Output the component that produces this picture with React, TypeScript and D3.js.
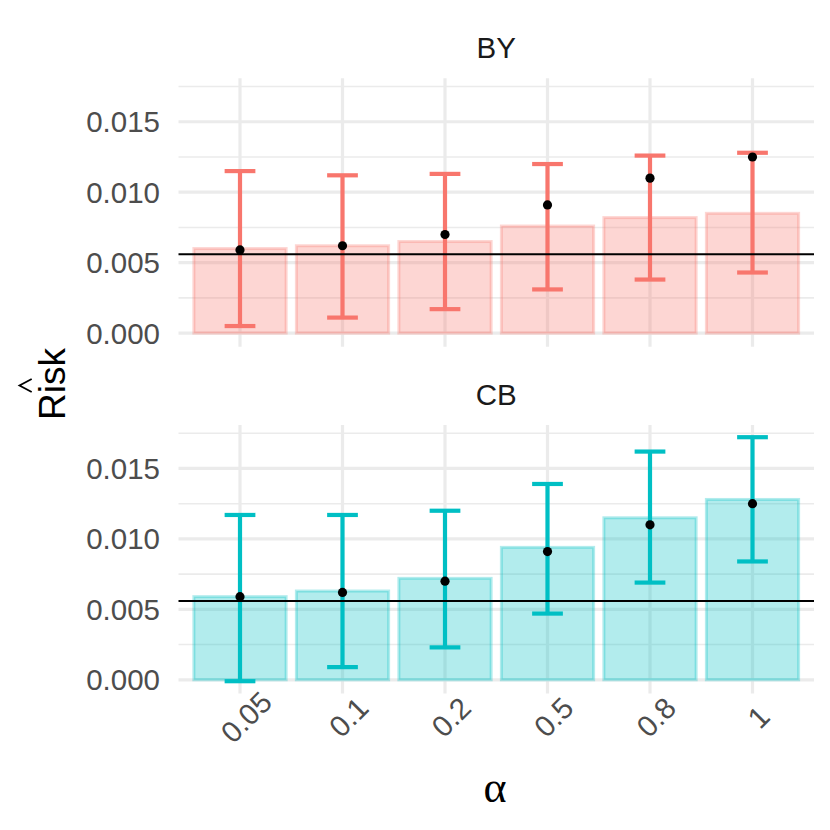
import React from "react";
import * as d3 from "d3";

const alphas = ["0.05", "0.1", "0.2", "0.5", "0.8", "1"];
const points = [0.0059, 0.0062, 0.0070, 0.0091, 0.0110, 0.0125];
const byBars = [0.0060, 0.0062, 0.0065, 0.0076, 0.0082, 0.0085];
const byLower = [0.0005, 0.0011, 0.0017, 0.0031, 0.0038, 0.0043];
const byUpper = [0.0115, 0.0112, 0.0113, 0.0120, 0.0126, 0.0128];
const cbBars = [0.0059, 0.0063, 0.0072, 0.0094, 0.0115, 0.0128];
const cbLower = [-0.0001, 0.0009, 0.0023, 0.0047, 0.0069, 0.0084];
const cbUpper = [0.0117, 0.0117, 0.0120, 0.0139, 0.0162, 0.01722];
const refLine = 0.0056;
const yTicks = [0, 0.005, 0.01, 0.015];
const yMinor = [0.0025, 0.0075, 0.0125, 0.0175];
const yTickLabels = ["0.000", "0.005", "0.010", "0.015"];

const panels = [
  { name: "BY", color: "#F8766D", bars: byBars, lower: byLower, upper: byUpper },
  { name: "CB", color: "#00BFC4", bars: cbBars, lower: cbLower, upper: cbUpper },
];

const FONT = "'Liberation Sans', Arial, Helvetica, sans-serif";

export default function App() {
  const left = 178.5;
  const right = 814;
  const panelTops = [78.3, 425];
  const panelH = 268.4;

  const all = [...byLower, ...byUpper, ...cbLower, ...cbUpper, ...byBars, ...cbBars, ...points, 0];
  const dmin = d3.min(all) as number;
  const dmax = d3.max(all) as number;
  const exp = (dmax - dmin) * 0.05;

  const x = d3.scalePoint<string>().domain(alphas).range([left, right]).padding(0.6);
  const step = x.step();
  const barW = step * 0.9;
  const capW = step * 0.3;

  return (
    <svg width={830} height={830} style={{ position: "absolute", left: 0, top: 0, background: "#fff" }}>
      {panels.map((p, pi) => {
        const top = panelTops[pi];
        const y = d3.scaleLinear().domain([dmin - exp, dmax + exp]).range([top + panelH, top]);
        return (
          <g key={p.name}>
            {/* grid */}
            {yMinor.map((v) => (
              <line key={"mn" + v} x1={left} x2={right} y1={y(v)} y2={y(v)} stroke="#EBEBEB" strokeWidth={1.6} />
            ))}
            {yTicks.map((v) => (
              <line key={"mj" + v} x1={left} x2={right} y1={y(v)} y2={y(v)} stroke="#EBEBEB" strokeWidth={3.2} />
            ))}
            {alphas.map((a) => (
              <line key={"vx" + a} x1={x(a)} x2={x(a)} y1={top} y2={top + panelH} stroke="#EBEBEB" strokeWidth={3.2} />
            ))}
            {/* y tick labels */}
            {yTicks.map((v, i) => (
              <text key={"yl" + v} x={160} y={y(v) + 10.5} textAnchor="end" fontFamily={FONT} fontSize={29.5} fill="#4D4D4D">
                {yTickLabels[i]}
              </text>
            ))}
            {/* strip */}
            <text x={(left + right) / 2} y={top - 20} textAnchor="middle" fontFamily={FONT} fontSize={29.5} fill="#1A1A1A">
              {p.name}
            </text>
            {/* bars */}
            {alphas.map((a, i) => (
              <rect
                key={"b" + a}
                x={(x(a) as number) - barW / 2}
                y={y(p.bars[i])}
                width={barW}
                height={y(0) - y(p.bars[i])}
                fill={p.color}
                fillOpacity={0.3}
                stroke={p.color}
                strokeOpacity={0.3}
                strokeWidth={3}
              />
            ))}
            {/* error bars */}
            {alphas.map((a, i) => {
              const cx = x(a) as number;
              return (
                <g key={"e" + a} stroke={p.color} strokeWidth={4.2}>
                  <line x1={cx} x2={cx} y1={y(p.lower[i])} y2={y(p.upper[i])} />
                  <line x1={cx - capW / 2} x2={cx + capW / 2} y1={y(p.lower[i])} y2={y(p.lower[i])} />
                  <line x1={cx - capW / 2} x2={cx + capW / 2} y1={y(p.upper[i])} y2={y(p.upper[i])} />
                </g>
              );
            })}
            {/* reference line */}
            <line x1={left} x2={right} y1={y(refLine)} y2={y(refLine)} stroke="#000" strokeWidth={2} />
            {/* points */}
            {alphas.map((a, i) => (
              <circle key={"p" + a} cx={x(a)} cy={y(points[i])} r={4.6} fill="#000" />
            ))}
          </g>
        );
      })}
      {/* x tick labels */}
      {alphas.map((a) => (
        <text
          key={"xl" + a}
          transform={`translate(${(x(a) as number) + 6},717) rotate(-45)`}
          textAnchor="middle"
          dominantBaseline="central"
          fontFamily={FONT}
          fontSize={29.5}
          fill="#4D4D4D"
        >
          {a}
        </text>
      ))}
      {/* axis titles */}
      <text x={495} y={802} textAnchor="middle" fontFamily="'Liberation Serif', 'Times New Roman', serif" fontSize={44} fill="#000">
        α
      </text>
      <text transform="translate(65,384) rotate(-90)" textAnchor="middle" fontFamily={FONT} fontSize={37} fill="#000">
        Risk
      </text>
      <path d="M31.7,379 L19.5,385.5 L31.7,392" fill="none" stroke="#000" strokeWidth={1.8} />
    </svg>
  );
}
